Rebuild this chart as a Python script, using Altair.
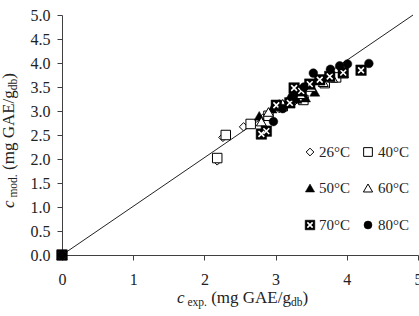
import altair as alt
import pandas as pd

# ---------------- data ----------------
temps = ["26°C", "40°C", "50°C", "60°C", "70°C", "80°C"]

x26 = [0, 2.18, 2.26, 2.55, 2.82, 3.05, 3.25, 3.40]
y26 = [0, 1.96, 2.45, 2.67, 2.85, 3.05, 3.18, 3.28]

x40 = [0, 2.18, 2.30, 2.65, 2.90, 3.10, 3.39, 3.69, 3.85]
y40 = [0, 2.02, 2.50, 2.73, 2.90, 3.10, 3.23, 3.58, 3.70]

x50 = [0, 2.77, 2.95, 3.05, 3.20, 3.30, 3.42, 3.55]
y50 = [0, 2.90, 3.05, 3.15, 3.30, 3.25, 3.28, 3.40]

x60 = [0, 2.80, 2.90, 3.10, 3.35, 3.50, 3.67, 3.80, 3.95]
y60 = [0, 2.78, 2.98, 3.15, 3.35, 3.50, 3.60, 3.69, 3.78]

x70 = [0, 2.80, 2.87, 3.01, 3.20, 3.26, 3.36, 3.48, 3.62, 3.76, 3.95, 4.20]
y70 = [0, 2.52, 2.58, 3.12, 3.17, 3.48, 3.42, 3.56, 3.65, 3.72, 3.80, 3.85]

x80 = [0, 2.97, 3.10, 3.25, 3.40, 3.53, 3.77, 3.90, 4.01, 4.31]
y80 = [0, 2.78, 3.05, 3.30, 3.50, 3.79, 3.87, 3.94, 3.98, 3.99]

fit_x = [0, 4.93]
fit_y = [0, 5.00]

x_ticks = [0, 1, 2, 3, 4, 5]
y_ticks = [0, 0.5, 1.0, 1.5, 2.0, 2.5, 3.0, 3.5, 4.0, 4.5, 5.0]

# ---------------- layout / style ----------------
FONT = "Liberation Serif"
W, H = 356, 240
PAD = {"left": 62, "top": 15, "right": 1, "bottom": 61}
AXC = "#404040"

xs = alt.Scale(domain=[0, 5], nice=False, zero=True)
ys = alt.Scale(domain=[0, 5], nice=False, zero=True)

xaxis = alt.Axis(values=x_ticks, format="d", title=None, grid=False,
                 tickSize=5, labelPadding=11, labelFont=FONT, labelFontSize=16,
                 labelColor="#222", domainColor=AXC, tickColor=AXC, labelFlush=False,
                 labelOverlap=False)
yaxis = alt.Axis(values=y_ticks, format=".1f", title=None, grid=False,
                 tickSize=5, labelPadding=7, labelFont=FONT, labelFontSize=16,
                 labelColor="#222", domainColor=AXC, tickColor=AXC,
                 labelOverlap=False)


def series(xv, yv):
    return pd.DataFrame({"x": xv, "y": yv})


def pts(df, **kw):
    return alt.Chart(df).mark_point(opacity=1, **kw).encode(
        x=alt.X("x:Q", scale=xs, axis=xaxis),
        y=alt.Y("y:Q", scale=ys, axis=yaxis),
    )


XPATH = "M-0.55,-0.55L0.55,0.55M-0.55,0.55L0.55,-0.55"

fit = alt.Chart(series(fit_x, fit_y)).mark_line(color="#222", strokeWidth=1).encode(
    x=alt.X("x:Q", scale=xs, axis=xaxis), y=alt.Y("y:Q", scale=ys, axis=yaxis))

styles = {
    "26°C": [dict(shape="diamond", size=70, filled=True, fill="white", stroke="black", strokeWidth=1)],
    "40°C": [dict(shape="square", size=90, filled=True, fill="white", stroke="black", strokeWidth=1)],
    "50°C": [dict(shape="triangle-up", size=100, filled=True, fill="black", stroke="black", strokeWidth=0.5)],
    "60°C": [dict(shape="triangle-up", size=100, filled=True, fill="white", stroke="black", strokeWidth=1)],
    "70°C": [dict(shape="square", size=110, filled=True, fill="black", stroke="black", strokeWidth=0.5),
             dict(shape=XPATH, size=110, filled=False, stroke="white", strokeWidth=1.6)],
    "80°C": [dict(shape="circle", size=75, filled=True, fill="black", stroke="black", strokeWidth=0.5)],
}
data = {"26°C": (x26, y26), "40°C": (x40, y40), "50°C": (x50, y50),
        "60°C": (x60, y60), "70°C": (x70, y70), "80°C": (x80, y80)}

layers = [fit]
for t in temps:
    df = series(*data[t])
    for st in styles[t]:
        layers.append(pts(df, **st))

# ---------------- custom legend (2 columns x 3 rows) ----------------
col_sym = [248, 306]
col_txt = [257, 316]
row_y = [137, 173, 210]
for i, t in enumerate(temps):
    r, c = divmod(i, 2)
    for st in styles[t]:
        st2 = dict(st)
        st2["size"] = st2["size"] * 0.85
        layers.append(alt.Chart(pd.DataFrame({"l": [t]})).mark_point(opacity=1, **st2).encode(
            x=alt.value(col_sym[c]), y=alt.value(row_y[r])))
    layers.append(alt.Chart(pd.DataFrame({"l": [t]})).mark_text(
        font=FONT, fontSize=15, align="left", baseline="alphabetic", color="#222").encode(
        x=alt.value(col_txt[c]), y=alt.value(row_y[r] + 5), text="l:N"))

# ---------------- axis titles with subscripts ----------------
TW = {' ': 250, 'c': 444, 'e': 444, 'x': 500, 'p': 500, '.': 250, '(': 333, 'm': 778,
      'g': 500, 'G': 722, 'A': 722, 'E': 611, '/': 278, 'd': 500, 'b': 500, ')': 333, 'o': 500}


def tw(s, size):
    return sum(TW.get(ch, 500) for ch in s) * size / 1000.0


S, s = 17, 11.5


def title_pieces(sub):
    return [("c", S, "italic", 0), (" " + sub, s, "normal", 3),
            (" (mg GAE/g", S, "normal", 0), ("db", s, "normal", 3), (")", S, "normal", 0)]


def add_title(pieces, x0, y0, rotated):
    off = 0.0
    for txt, size, style, shift in pieces:
        lead = len(txt) - len(txt.lstrip(" "))
        off_t = off + lead * TW[' '] * size / 1000.0
        if rotated:
            px, py, ang = x0 + shift, y0 - off_t, 270
        else:
            px, py, ang = x0 + off_t, y0 + shift, 0
        layers.append(alt.Chart(pd.DataFrame({"t": [txt.strip()]})).mark_text(
            font=FONT, fontSize=size, fontStyle=style, align="left",
            baseline="alphabetic", angle=ang, color="#222").encode(
            x=alt.value(px), y=alt.value(py), text="t:N"))
        off += tw(txt, size)


add_title(title_pieces("exp."), 115, 288, rotated=False)
add_title(title_pieces("mod."), -48, 193, rotated=True)

chart = alt.layer(*layers).properties(
    width=W, height=H,
    autosize=alt.AutoSizeParams(type="none"),
    padding=PAD,
).configure_view(stroke=None).configure_axis(domainWidth=1, tickWidth=1)

chart.save("out.html", embed_options={"renderer": "svg", "actions": False})
